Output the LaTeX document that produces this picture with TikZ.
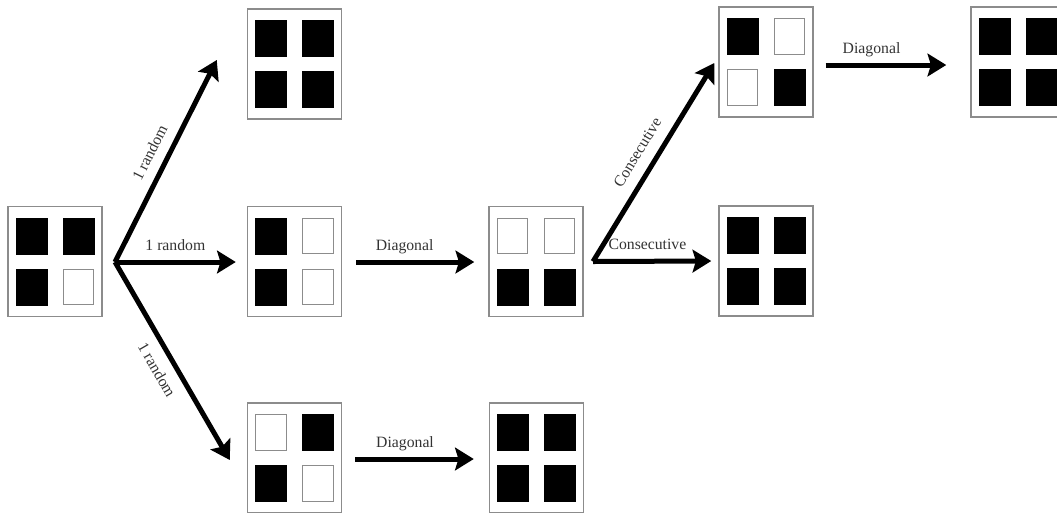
\documentclass[tikz,border=0pt]{standalone}
\usepackage{fontspec}
\setmainfont{Liberation Serif}
\usetikzlibrary{arrows.meta,calc}
\tikzset{
  panel/.style={draw=black!45, line width=1.1pt, fill=white, minimum width=70.5pt, minimum height=82.5pt, inner sep=0pt},
  bk/.style={fill=black, draw=black, line width=0.5pt, minimum width=23.5pt, minimum height=27pt, inner sep=0pt},
  wt/.style={fill=white, draw=black!45, line width=0.9pt, minimum width=23pt, minimum height=26.5pt, inner sep=0pt},
  arr/.style={line width=3.75pt, -{Stealth[length=14pt,width=17pt,inset=2.5pt]}},
  lbl/.style={font=\fontsize{11.8}{13}\selectfont, text=black!80, text height=8pt, text depth=2.5pt, inner sep=1pt}
}
\newcommand\gridpanel[7]{%
  \begin{scope}[shift={(#2,#3)}]
    \node[panel] (#1) at (0,0) {};
    \node[#4] (#1a) at (-23.5,-25.5) {};
    \node[#5] (#1b) at (23.5,-25.5) {};
    \node[#6] (#1c) at (-23.5,25.5) {};
    \node[#7] (#1d) at (23.5,25.5) {};
  \end{scope}}
\begin{document}
\begin{tikzpicture}[x=0.75pt,y=-0.75pt]
\useasboundingbox (0,0) rectangle (1057,512);
\clip (0,0) rectangle (1057,512);
\gridpanel{B0}{55}{261.5}{bk}{bk}{bk}{wt}
\gridpanel{T1}{294.5}{64}{bk}{bk}{bk}{bk}
\gridpanel{M1}{294.5}{261.5}{bk}{wt}{bk}{wt}
\gridpanel{M2}{536}{261.5}{wt}{wt}{bk}{bk}
\gridpanel{L1}{294.5}{458}{wt}{bk}{bk}{wt}
\gridpanel{L2}{536.5}{458}{bk}{bk}{bk}{bk}
\gridpanel{TR1}{766}{62}{bk}{wt}{wt}{bk}
\gridpanel{MR}{766}{261}{bk}{bk}{bk}{bk}
\gridpanel{TR2}{1018}{62}{bk}{bk}{bk}{bk}
\coordinate (f0) at (115,262);
\coordinate (f1) at (593,261.5);
\draw[arr] (f0) -- ($(T1.west)+(-30,-4)$) node[lbl, sloped, above=4.2pt, pos=0.5] {1 random};
\draw[arr] (f0) -- ($(M1.west)+(-11,0.5)$) node[lbl, above=3.5pt, pos=0.5] {1 random};
\draw[arr] (f0) -- ($(L1.west)+(-17,2)$) node[lbl, sloped, below=6.5pt, pos=0.5] {1 random};
\draw[arr] ($(M1.east)+(14,0.5)$) -- ($(M2.west)+(-14,0.5)$) node[lbl, above=3.5pt, pos=0.41] {Diagonal};
\draw[arr] ($(L1.east)+(13,1)$) -- ($(L2.west)+(-15,1)$) node[lbl, above=3.5pt, pos=0.42] {Diagonal};
\draw[arr] (f1) -- ($(TR1.west)+(-4,1)$) node[lbl, sloped, above=5pt, pos=0.5] {Consecutive};
\draw[arr] (f1) -- ($(MR.west)+(-7,0)$) node[lbl, above=3.5pt, pos=0.46] {Consecutive};
\draw[arr] ($(TR1.east)+(12,3)$) -- ($(TR2.west)+(-24,3)$) node[lbl, above=3.5pt, pos=0.38] {Diagonal};
\end{tikzpicture}
\end{document}
